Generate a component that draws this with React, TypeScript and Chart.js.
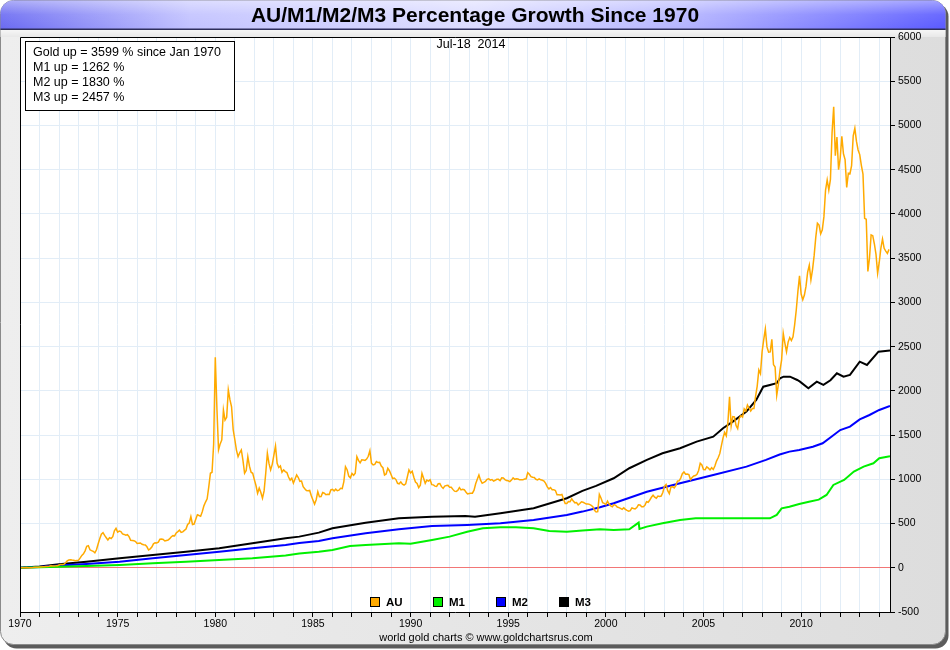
import React, { useEffect, useRef } from 'react';
import { Chart, registerables } from 'chart.js';

Chart.register(...registerables);

// ---------------- data ----------------
const START_YEAR = 1970;
const X_MIN = 1970;
const X_MAX = 2014.55;
const Y_MIN = -500;
const Y_MAX = 6000;
const Y_STEP = 500;
const X_LABEL_EVERY = 5;

// Gold % growth since Jan 1970, one value per month (Jan 1970 .. Jul 2014)
const goldMonthly = [
  -1, 0, 0, 1, 2, 0, 0, 1, 3, 6, 7, 7, // 1970
  8, 10, 11, 11, 15, 14, 17, 22, 20, 21, 22, 24, // 1971
  31, 38, 38, 40, 56, 77, 88, 91, 87, 85, 80, 83, // 1972
  86, 111, 140, 157, 191, 243, 250, 203, 194, 186, 169, 203, // 1973
  269, 329, 380, 397, 366, 340, 315, 340, 331, 351, 417, 445, // 1974
  403, 414, 409, 383, 377, 369, 374, 352, 311, 309, 306, 297, // 1975
  274, 277, 280, 266, 260, 257, 237, 201, 214, 234, 271, 283, // 1976
  280, 289, 323, 326, 320, 303, 309, 314, 329, 351, 363, 360, // 1977
  394, 409, 426, 400, 406, 423, 437, 489, 506, 578, 489, 494, // 1978
  549, 600, 591, 583, 634, 700, 743, 780, 914, 1068, 1080, 1400, // 1979
  2380, 1800, 1332, 1400, 1445, 1784, 1670, 1700, 2010, 1900, 1820, 1560, // 1980
  1450, 1330, 1256, 1300, 1332, 1214, 1068, 1100, 1256, 1149, 1080, 1068, // 1981
  997, 930, 842, 900, 851, 786, 869, 1068, 1294, 1180, 1106, 1169, // 1982
  1274, 1377, 1180, 1134, 1151, 1080, 1106, 1087, 1077, 1026, 991, 1012, // 1983
  957, 1003, 1049, 1020, 977, 980, 917, 894, 874, 871, 874, 814, // 1984
  766, 720, 769, 860, 803, 806, 850, 843, 826, 831, 829, 880, // 1985
  886, 869, 889, 871, 877, 898, 894, 974, 1143, 1109, 1037, 1017, // 1986
  1066, 1046, 1069, 1256, 1214, 1186, 1220, 1217, 1214, 1229, 1260, 1324, // 1987
  1180, 1163, 1169, 1200, 1189, 1191, 1149, 1131, 1049, 1060, 1125, 1097, // 1988
  1054, 1009, 1014, 997, 955, 949, 971, 946, 934, 949, 1026, 1106, // 1989
  1071, 1091, 1023, 969, 954, 906, 934, 1068, 1011, 955, 991, 980, // 1990
  994, 940, 937, 923, 920, 949, 951, 917, 897, 923, 929, 931, // 1991
  911, 911, 886, 866, 863, 874, 906, 880, 886, 883, 857, 834, // 1992
  840, 843, 843, 877, 949, 1000, 1049, 990, 955, 965, 975, 1000, // 1993
  1006, 991, 997, 980, 989, 1000, 1000, 986, 1017, 1014, 997, 986, // 1994
  983, 974, 991, 1017, 1000, 1006, 1003, 994, 994, 994, 1003, 1006, // 1995
  1075, 1057, 1031, 1023, 1020, 1000, 994, 1006, 994, 989, 980, 954, // 1996
  914, 891, 906, 883, 883, 874, 826, 826, 823, 829, 774, 726, // 1997
  726, 749, 746, 780, 754, 734, 737, 711, 726, 746, 740, 731, // 1998
  720, 720, 717, 706, 691, 649, 631, 634, 829, 789, 737, 729, // 1999
  714, 754, 720, 700, 689, 714, 706, 686, 680, 671, 660, 677, // 2000
  660, 649, 640, 646, 677, 671, 666, 680, 711, 709, 689, 689, // 2001
  706, 746, 740, 766, 797, 820, 797, 786, 811, 806, 811, 851, // 2002
  920, 940, 871, 837, 914, 917, 903, 929, 980, 983, 1014, 1063, // 2003
  1083, 1057, 1060, 1054, 997, 1020, 1037, 1043, 1057, 1100, 1181, 1163, // 2004
  1111, 1109, 1140, 1126, 1106, 1131, 1111, 1151, 1206, 1243, 1290, 1380, // 2005
  1469, 1530, 1491, 1643, 1934, 1603, 1709, 1706, 1609, 1574, 1691, 1720, // 2006
  1703, 1797, 1771, 1840, 1806, 1771, 1800, 1800, 1937, 2054, 2236, 2194, // 2007
  2440, 2580, 2700, 2497, 2437, 2440, 2583, 2297, 2269, 1950, 2071, 2231, // 2008
  2351, 2650, 2540, 2443, 2551, 2603, 2569, 2611, 2746, 2914, 3123, 3300, // 2009
  3094, 3029, 3083, 3183, 3343, 3420, 3254, 3371, 3531, 3737, 3894, 3874, // 2010
  3774, 3820, 3969, 4270, 4384, 4269, 4391, 4917, 5212, 4657, 4869, 4500, // 2011
  4631, 4877, 4680, 4614, 4300, 4460, 4454, 4546, 4883, 4968, 4820, 4723, // 2012
  4671, 4549, 4451, 3950, 3940, 3350, 3500, 3763, 3754, 3660, 3543, 3330, // 2013
  3454, 3614, 3717, 3611, 3580, 3554, 3599, // 2014
];

const m1Years = [
  1970, 1971, 1972, 1973.4, 1975.1, 1976.8, 1978.5, 1980.2, 1981.9, 1983.6, 1984.3, 1985.3,
  1986.0, 1986.9, 1987.7, 1989.4, 1990.0, 1991.1, 1992.0, 1992.9, 1993.7, 1994.6, 1995.4,
  1996.3, 1997.1, 1998.0, 1998.8, 1999.7, 2000.4, 2001.2, 2001.68, 2001.72, 2002.1, 2002.9,
  2003.8, 2004.6, 2005.5, 2006.5, 2007.5, 2008.4, 2008.75, 2009.0, 2009.4, 2009.9, 2010.4,
  2010.9, 2011.3, 2011.65, 2012.2, 2012.7, 2013.2, 2013.7, 2014.0, 2014.55,
];
const m1Values = [
  0, 6, 12, 20, 31, 50, 69, 88, 107, 140, 160, 180,
  201, 246, 258, 277, 272, 314, 352, 408, 447, 458, 458,
  447, 416, 408, 420, 435, 427, 435, 510, 440, 465, 503,
  540, 559, 559, 559, 559, 559, 597, 672, 690, 721, 747,
  770, 823, 936, 993, 1087, 1143, 1181, 1238, 1262,
];

const m2Years = [
  1970, 1971, 1972, 1973.4, 1975.1, 1976.8, 1978.5, 1980.2, 1981.9, 1983.6, 1984.3, 1985.3,
  1986.0, 1987.7, 1989.4, 1991.1, 1992.9, 1994.6, 1996.3, 1998.0, 1998.8, 1999.7, 2000.4,
  2002.1, 2003.8, 2005.5, 2007.2, 2008.2, 2008.9, 2009.4, 2009.9, 2010.6, 2011.1, 2011.6,
  2012.0, 2012.5, 2013.0, 2013.5, 2014.0, 2014.55,
];
const m2Values = [
  0, 10, 25, 43, 69, 107, 145, 182, 220, 258, 280, 303,
  333, 390, 435, 472, 484, 503, 540, 597, 635, 684, 729,
  860, 955, 1049, 1143, 1219, 1280, 1313, 1332, 1369, 1407, 1490,
  1557, 1595, 1678, 1727, 1784, 1830,
];

const m3Years = [
  1970, 1971, 1972, 1973.4, 1975.1, 1976.8, 1978.5, 1980.2, 1981.9, 1983.6, 1984.3, 1985.3,
  1986.0, 1987.7, 1989.4, 1991.1, 1992.8, 1993.3, 1994.6, 1996.3, 1998.0, 1998.8, 1999.5,
  2000.4, 2001.2, 2002.1, 2002.9, 2003.8, 2004.65, 2005.5, 2006.0, 2006.5, 2007.2, 2007.7,
  2008.06, 2008.4, 2008.75, 2008.92, 2009.1, 2009.43, 2009.8, 2009.94, 2010.37, 2010.8,
  2011.14, 2011.5, 2011.83, 2012.17, 2012.5, 2013.0, 2013.37, 2013.96, 2014.55,
];
const m3Values = [
  0, 15, 40, 69, 107, 145, 182, 220, 277, 333, 352, 397,
  447, 510, 560, 578, 586, 576, 616, 673, 786, 870, 925,
  1012, 1125, 1219, 1294, 1351, 1426, 1482, 1577, 1652, 1765, 1897,
  2047, 2067, 2086, 2142, 2160, 2160, 2123, 2104, 2029, 2104,
  2067, 2120, 2199, 2160, 2180, 2330, 2292, 2443, 2457,
];

const seriesNames = ['AU', 'M1', 'M2', 'M3'];
const seriesColors = ['#ffaa00', '#00f000', '#0000ff', '#000000'];
const seriesWidths = [1.5, 2, 2, 2];

const titleText = 'AU/M1/M2/M3 Percentage Growth Since 1970';
const dateText = 'Jul-18  2014';
const statsLines = [
  'Gold up = 3599 % since Jan 1970',
  'M1 up = 1262 %',
  'M2 up = 1830 %',
  'M3 up = 2457 %',
];
const creditText = 'world gold charts \u00a9 www.goldchartsrus.com';

const FONT = '"Liberation Sans", Arial, Helvetica, sans-serif';
const GRID = '#e2edf7';
const ZERO = '#f27676';

function roundRect(ctx: CanvasRenderingContext2D, x: number, y: number, w: number, h: number, r: number) {
  ctx.beginPath();
  ctx.moveTo(x + r, y);
  ctx.lineTo(x + w - r, y);
  ctx.arcTo(x + w, y, x + w, y + r, r);
  ctx.lineTo(x + w, y + h - r);
  ctx.arcTo(x + w, y + h, x + w - r, y + h, r);
  ctx.lineTo(x + r, y + h);
  ctx.arcTo(x, y + h, x, y + h - r, r);
  ctx.lineTo(x, y + r);
  ctx.arcTo(x, y, x + r, y, r);
  ctx.closePath();
}

const framePlugin = {
  id: 'frame',
  beforeDraw(chart: any) {
    const { ctx, width, height, chartArea: ca } = chart;
    ctx.save();
    ctx.fillStyle = '#ffffff';
    ctx.fillRect(0, 0, width, height);
    // shadow
    roundRect(ctx, 3.5, 3.5, 945, 645, 13);
    ctx.fillStyle = '#5c5c5c';
    ctx.fill();
    // frame
    roundRect(ctx, 0.5, 0.5, 945, 644, 13);
    const g = ctx.createLinearGradient(0, 0, width, 0);
    g.addColorStop(0, '#eeeeee');
    g.addColorStop(1, '#dddddd');
    ctx.fillStyle = g;
    ctx.fill();
    ctx.strokeStyle = '#8a8a8a';
    ctx.lineWidth = 1;
    ctx.stroke();
    // title bar
    ctx.save();
    roundRect(ctx, 0.5, 0.5, 945, 644, 13);
    ctx.clip();
    const tg = ctx.createLinearGradient(0, 0, width, 0);
    tg.addColorStop(0, '#6a6af2');
    tg.addColorStop(0.2, '#c2c2ff');
    tg.addColorStop(0.5, '#dcdcff');
    tg.addColorStop(0.72, '#b4b4ff');
    tg.addColorStop(1, '#5858ff');
    ctx.fillStyle = tg;
    ctx.fillRect(0, 0, width, 29);
    const vg = ctx.createLinearGradient(0, 0, 0, 29);
    vg.addColorStop(0, 'rgba(255,255,255,0.45)');
    vg.addColorStop(0.5, 'rgba(255,255,255,0.1)');
    vg.addColorStop(1, 'rgba(255,255,255,0)');
    ctx.fillStyle = vg;
    ctx.fillRect(0, 0, width, 29);
    ctx.fillStyle = '#2e2e5c';
    ctx.fillRect(0, 28.5, width, 1.5);
    const bg = ctx.createLinearGradient(0, 30, 0, 37);
    bg.addColorStop(0, '#f6f6f6');
    bg.addColorStop(1, '#e8e8e8');
    ctx.fillStyle = bg;
    ctx.fillRect(0, 30, width, 7);
    ctx.restore();
    // plot background
    ctx.fillStyle = '#ffffff';
    ctx.fillRect(ca.left, ca.top, ca.right - ca.left, ca.bottom - ca.top);
    // title
    ctx.fillStyle = '#000000';
    ctx.font = `bold 21px ${FONT}`;
    ctx.textAlign = 'center';
    ctx.textBaseline = 'middle';
    ctx.fillText(titleText, 475, 16);
    ctx.restore();
  },
  afterDraw(chart: any) {
    const { ctx, chartArea: ca } = chart;
    ctx.save();
    ctx.strokeStyle = '#000000';
    ctx.lineWidth = 1;
    ctx.beginPath();
    ctx.moveTo(ca.left + 0.5, ca.bottom);
    ctx.lineTo(ca.left + 0.5, ca.top + 0.5);
    ctx.lineTo(ca.right, ca.top + 0.5);
    ctx.stroke();
    // stats box
    ctx.fillStyle = '#ffffff';
    ctx.fillRect(25.5, 41.5, 209, 69);
    ctx.strokeRect(25.5, 41.5, 209, 69);
    ctx.fillStyle = '#000000';
    ctx.font = `12.5px ${FONT}`;
    ctx.textAlign = 'left';
    ctx.textBaseline = 'middle';
    statsLines.forEach((s, i) => ctx.fillText(s, 33, 52.5 + i * 15));
    // date
    ctx.textAlign = 'center';
    ctx.fillText(dateText, 471, 44.5);
    // bottom legend
    const lx = [370.5, 433.5, 496.5, 559.5];
    ctx.font = `bold 11.5px ${FONT}`;
    ctx.textAlign = 'left';
    seriesNames.forEach((n, i) => {
      ctx.fillStyle = seriesColors[i];
      ctx.fillRect(lx[i], 597.5, 9, 9);
      ctx.strokeStyle = '#000000';
      ctx.strokeRect(lx[i], 597.5, 9, 9);
      ctx.fillStyle = '#000000';
      ctx.fillText(n, lx[i] + 15.5, 602.5);
    });
    // credit
    ctx.font = `11px ${FONT}`;
    ctx.textAlign = 'center';
    ctx.fillText(creditText, 486, 637.5);
    ctx.restore();
  },
};

export default function App() {
  const ref = useRef<HTMLCanvasElement | null>(null);
  useEffect(() => {
    if (!ref.current) return;
    const goldPts = goldMonthly.map((v, i) => ({ x: START_YEAR + i / 12, y: v }));
    const toPts = (xs: number[], ys: number[]) => xs.map((x, i) => ({ x, y: ys[i] }));
    const allData = [
      goldPts,
      toPts(m1Years, m1Values),
      toPts(m2Years, m2Values),
      toPts(m3Years, m3Values),
    ];
    const chart = new Chart(ref.current, {
      type: 'line',
      data: {
        datasets: allData.map((d, i) => ({
          label: seriesNames[i],
          data: d,
          borderColor: seriesColors[i],
          backgroundColor: seriesColors[i],
          borderWidth: seriesWidths[i],
          pointRadius: 0,
          fill: false,
          tension: 0,
        })),
      },
      options: {
        responsive: false,
        animation: false,
        devicePixelRatio: 1,
        layout: { padding: { left: 20, top: 37, right: 0, bottom: 0 } },
        plugins: {
          legend: { display: false },
          title: { display: false },
          tooltip: { enabled: false },
        },
        scales: {
          x: {
            type: 'linear',
            min: X_MIN,
            max: X_MAX,
            afterFit: (s: any) => { s.height = 38; },
            border: { color: '#000000', width: 1 },
            grid: { color: GRID, tickColor: '#000000', tickLength: 5, drawTicks: true },
            ticks: {
              stepSize: 1,
              includeBounds: false,
              autoSkip: false,
              maxRotation: 0,
              padding: 1,
              color: '#000000',
              font: { family: FONT, size: 10.5 },
              callback: (v: any) => (Number(v) % X_LABEL_EVERY === 0 ? String(v) : ''),
            },
          },
          y: {
            type: 'linear',
            position: 'right',
            min: Y_MIN,
            max: Y_MAX,
            afterFit: (s: any) => { s.width = 60; },
            border: { color: '#000000', width: 1 },
            grid: {
              color: (c: any) => (c.tick && c.tick.value === 0 ? ZERO : GRID),
              tickColor: '#000000',
              tickLength: 5,
            },
            ticks: {
              stepSize: Y_STEP,
              padding: 3,
              color: '#000000',
              font: { family: FONT, size: 10.5 },
              callback: (v: any) => String(v),
            },
          },
        },
      },
      plugins: [framePlugin],
    });
    return () => chart.destroy();
  }, []);
  return (
    <div style={{ position: 'fixed', left: 0, top: 0, width: 950, height: 650 }}>
      <canvas ref={ref} width={950} height={650} style={{ display: 'block', width: 950, height: 650 }} />
    </div>
  );
}
